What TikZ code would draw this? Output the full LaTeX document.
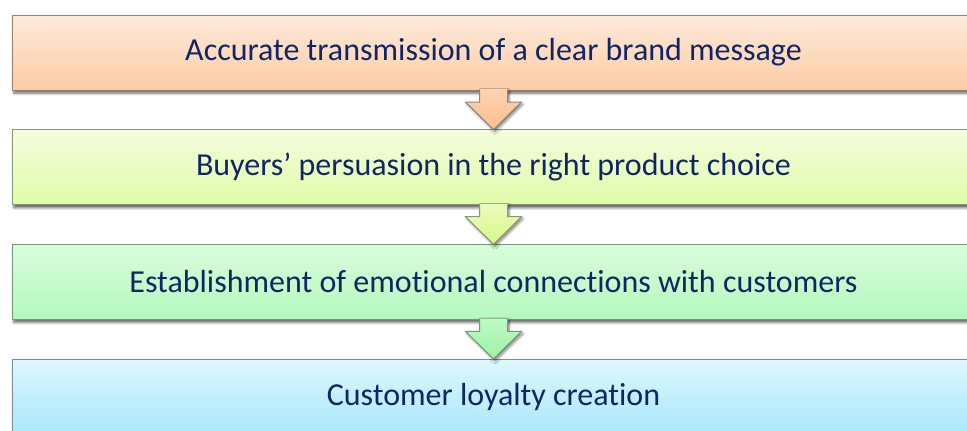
\documentclass[tikz,border=0pt]{standalone}
\usepackage{fontspec}
\setmainfont{Carlito}[Ligatures=NoCommon]
\usetikzlibrary{positioning,calc,shadows.blur}

\definecolor{textblue}{RGB}{16,38,100}
\definecolor{peachtop}{RGB}{253,234,218}
\definecolor{peachbot}{RGB}{252,204,166}
\definecolor{peachline}{RGB}{150,128,112}
\definecolor{limetop}{RGB}{244,253,222}
\definecolor{limebot}{RGB}{224,252,168}
\definecolor{limeline}{RGB}{140,150,120}
\definecolor{greentop}{RGB}{216,252,218}
\definecolor{greenbot}{RGB}{180,248,190}
\definecolor{greenline}{RGB}{120,150,125}
\definecolor{skytop}{RGB}{222,247,253}
\definecolor{skybot}{RGB}{168,232,252}
\definecolor{skyline}{RGB}{125,140,150}
\definecolor{peacharrA}{RGB}{253,212,178}
\definecolor{peacharrB}{RGB}{252,190,140}
\definecolor{limearrA}{RGB}{234,252,190}
\definecolor{limearrB}{RGB}{214,250,135}
\definecolor{greenarrA}{RGB}{190,249,196}
\definecolor{greenarrB}{RGB}{158,243,166}

\begin{document}
\begin{tikzpicture}[x=0.75pt,y=-0.75pt, node distance=29.75pt,
  flow box/.style={rectangle,draw,line width=0.75pt,outer sep=0pt,inner sep=0pt,
    minimum width=722pt,minimum height=56.25pt,text=textblue,
    font=\fontsize{24}{28}\selectfont,
    blur shadow={shadow xshift=1.2pt,shadow yshift=-2.4pt,shadow blur steps=6,shadow opacity=60}},
  arrow shadow/.style={blur shadow={shadow xshift=1.2pt,shadow yshift=-1.6pt,shadow blur steps=5,shadow opacity=50}}]
\clip (0,0) rectangle (967,430);
\node[flow box,draw=peachline,top color=peachtop,bottom color=peachbot] (b1) at (493.5,52.5) {Accurate transmission of a clear brand message};
\node[flow box,draw=limeline,top color=limetop,bottom color=limebot,below=of b1] (b2) {Buyers’ persuasion in the right product choice};
\node[flow box,draw=greenline,top color=greentop,bottom color=greenbot,below=of b2] (b3) {Establishment of emotional connections with customers};
\node[flow box,draw=skyline,top color=skytop,bottom color=skybot,below=of b3] (b4) {Customer loyalty creation};
% block arrows between the boxes
\foreach \a/\b/\ca/\cb/\cl in {b1/b2/peacharrA/peacharrB/peachline,b2/b3/limearrA/limearrB/limeline,b3/b4/greenarrA/greenarrB/greenline}{
  \fill[top color=\ca,bottom color=\cb,arrow shadow] ($(\a.south)+(-14,-1)$) -- ($(\a.south)+(-14,12)$) -- ($(\a.south)+(-28,12)$)
    -- (\b.north) -- ($(\a.south)+(28,12)$) -- ($(\a.south)+(14,12)$) -- ($(\a.south)+(14,-1)$) -- cycle;
  \draw[draw=\cl,line width=0.75pt,line join=miter] ($(\a.south)+(-14,0)$) -- ($(\a.south)+(-14,12)$) -- ($(\a.south)+(-28,12)$)
    -- (\b.north) -- ($(\a.south)+(28,12)$) -- ($(\a.south)+(14,12)$) -- ($(\a.south)+(14,0)$);
}
\end{tikzpicture}
\end{document}
